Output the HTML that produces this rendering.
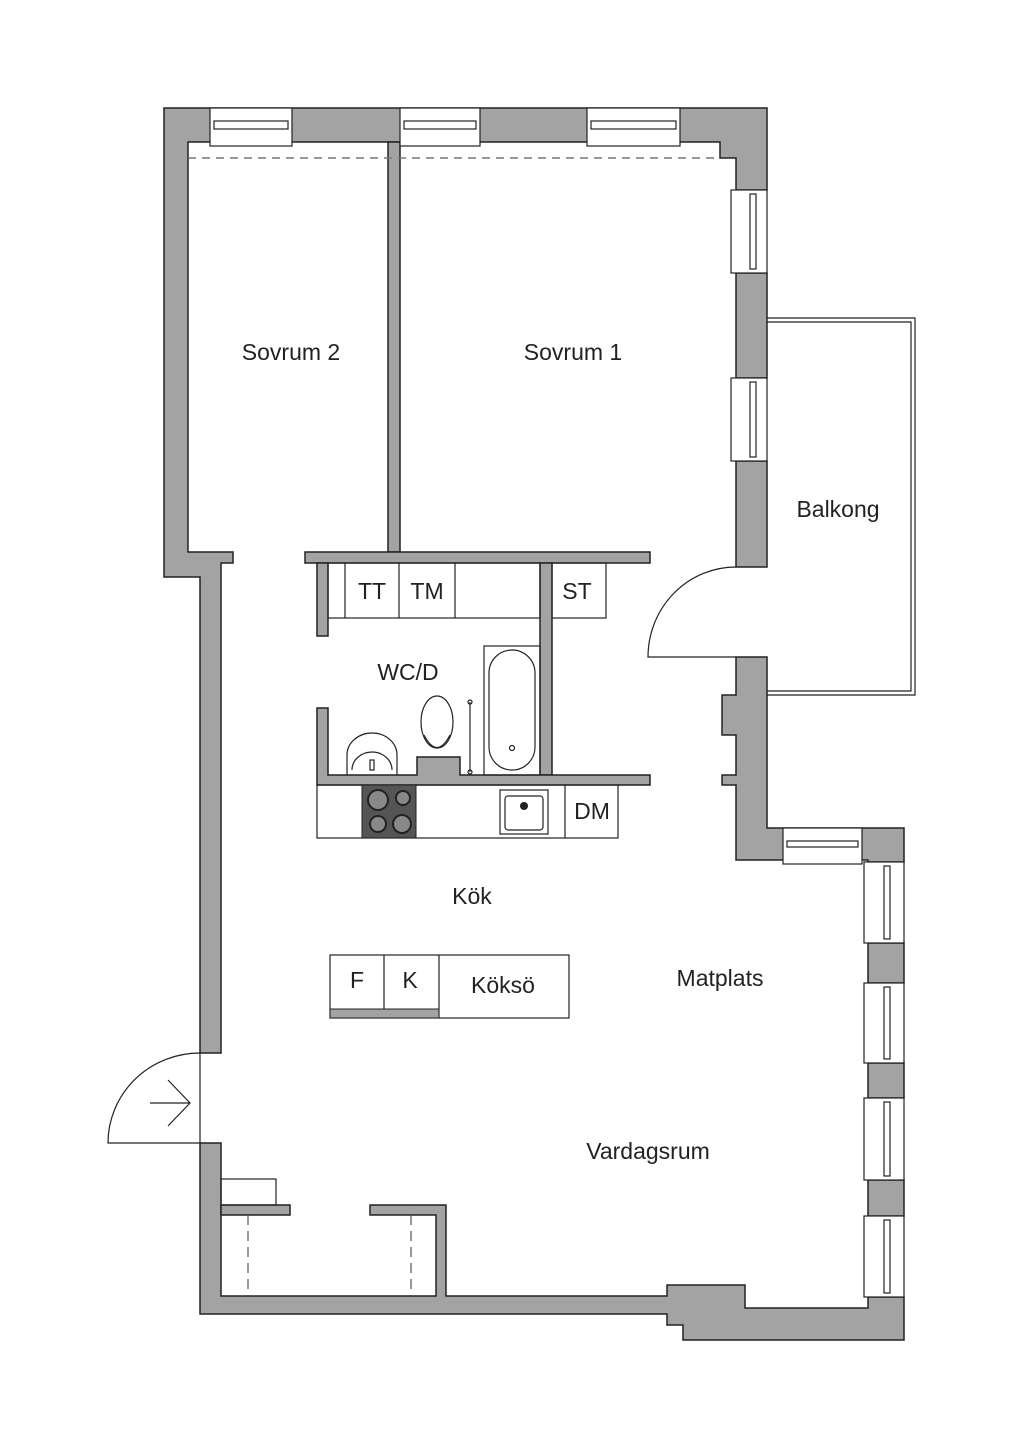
<!DOCTYPE html>
<html><head><meta charset="utf-8"><style>
html,body{margin:0;padding:0;background:#fff}
svg{display:block}
text{font-family:"Liberation Sans",sans-serif;font-size:23px;fill:#222;text-anchor:middle}
</style></head><body>
<svg width="1024" height="1448" viewBox="0 0 1024 1448" xmlns="http://www.w3.org/2000/svg">
<g fill="#a3a3a3" stroke="#222" stroke-width="1.5">
<path d="M164 108 L767 108 L767 190 L736 190 L736 158 L720 158 L720 142 L188 142 L188 552 L233 552 L233 563 L221 563 L221 1053 L200 1053 L200 577 L164 577 Z"/>
<rect x="736" y="273" width="31" height="105"/>
<rect x="736" y="461" width="31" height="106"/>
<path d="M736 657 L767 657 L767 828 L904 828 L904 862 L868 862 L868 860 L783 860 L783 860 L736 860 L736 785 L722 785 L722 775 L736 775 L736 735 L722 735 L722 695 L736 695 Z"/>
<rect x="868" y="943" width="36" height="40"/>
<rect x="868" y="1063" width="36" height="35"/>
<rect x="868" y="1180" width="36" height="36"/>
<path d="M200 1143 L221 1143 L221 1296 L436 1296 L436 1215 L370 1215 L370 1205 L446 1205 L446 1296 L667 1296 L667 1285 L745 1285 L745 1308 L868 1308 L868 1297 L904 1297 L904 1340 L683 1340 L683 1325 L667 1325 L667 1314 L200 1314 Z"/>
<rect x="221" y="1205" width="69" height="10"/>
<rect x="388" y="142" width="12" height="410"/>
<rect x="305" y="552" width="345" height="11"/>
<rect x="317" y="563" width="11" height="73"/>
<rect x="540" y="563" width="12" height="212"/>
<path d="M317 708 L328 708 L328 775 L417 775 L417 757 L460 757 L460 775 L650 775 L650 785 L317 785 Z"/>
</g>
<g fill="#fff" stroke="#222" stroke-width="1.2">
<rect x="210" y="108" width="82" height="38"/><rect x="214" y="121" width="74" height="8"/>
<rect x="400" y="108" width="80" height="38"/><rect x="404" y="121" width="72" height="8"/>
<rect x="587" y="108" width="93" height="38"/><rect x="591" y="121" width="85" height="8"/>
<rect x="731" y="190" width="36" height="83"/><rect x="750" y="194" width="6" height="75"/>
<rect x="731" y="378" width="36" height="83"/><rect x="750" y="382" width="6" height="75"/>
<rect x="783" y="828" width="79" height="36"/><rect x="787" y="841" width="71" height="6"/>
<rect x="864" y="862" width="40" height="81"/><rect x="884" y="866" width="6" height="73"/>
<rect x="864" y="983" width="40" height="80"/><rect x="884" y="987" width="6" height="72"/>
<rect x="864" y="1098" width="40" height="82"/><rect x="884" y="1102" width="6" height="74"/>
<rect x="864" y="1216" width="40" height="81"/><rect x="884" y="1220" width="6" height="73"/>
</g>
<line x1="188" y1="158" x2="720" y2="158" stroke="#777" stroke-width="1.5" stroke-dasharray="8,6"/>
<g fill="none" stroke="#222" stroke-width="1.2">
<path d="M767 318 L915 318 L915 695 L767 695"/><path d="M767 322 L911 322 L911 691 L767 691"/>
<path d="M736 567 A88 90 0 0 0 648 657 L736 657"/>
<path d="M200 1053 A92 90 0 0 0 108 1143 L200 1143 Z" fill="#fff"/>
<path d="M150 1103 L190 1103 M168 1080 L190 1103 L168 1126"/>
<rect x="328" y="563" width="212" height="55"/>
<line x1="345" y1="563" x2="345" y2="618"/><line x1="399" y1="563" x2="399" y2="618"/><line x1="455" y1="563" x2="455" y2="618"/>
<rect x="552" y="563" width="54" height="55"/>
<rect x="484" y="646" width="56" height="129"/>
<rect x="489" y="650" width="46" height="120" rx="23"/>
<circle cx="512" cy="748" r="2.5"/>
<ellipse cx="437" cy="722" rx="16" ry="26"/>
<path d="M424 735 Q437 760 450 735"/>
<line x1="470" y1="702" x2="470" y2="772"/><circle cx="470" cy="702" r="2"/><circle cx="470" cy="772" r="2"/>
<path d="M347 775 L347 755 A25 22 0 0 1 397 755 L397 775"/>
<path d="M352 770 A20 18 0 1 1 392 770"/>
<rect x="370" y="760" width="4" height="10"/>
<rect x="317" y="785" width="301" height="53"/>
<line x1="565" y1="785" x2="565" y2="838"/>
<rect x="500" y="790" width="48" height="44"/><rect x="505" y="796" width="38" height="34" rx="3"/>
<rect x="330" y="955" width="239" height="63"/>
<line x1="384" y1="955" x2="384" y2="1013"/><line x1="439" y1="955" x2="439" y2="1018"/>
<rect x="221" y="1179" width="55" height="26"/>
</g>
<rect x="330" y="1009" width="109" height="9" fill="#a3a3a3" stroke="#222"/>
<circle cx="524" cy="806" r="4" fill="#222"/>
<rect x="362" y="785" width="54" height="53" fill="#555" stroke="#222"/>
<g fill="#888" stroke="#222" stroke-width="2">
<circle cx="378" cy="800" r="10"/><circle cx="403" cy="798" r="7"/><circle cx="378" cy="824" r="8"/><circle cx="402" cy="824" r="9"/>
</g>
<g stroke="#555" stroke-width="1.2" stroke-dasharray="10,6">
<line x1="248" y1="1215" x2="248" y2="1296"/><line x1="411" y1="1215" x2="411" y2="1296"/>
</g>
<text x="291" y="360">Sovrum 2</text>
<text x="573" y="360">Sovrum 1</text>
<text x="838" y="517">Balkong</text>
<text x="372" y="599">TT</text>
<text x="427" y="599">TM</text>
<text x="577" y="599">ST</text>
<text x="408" y="680">WC/D</text>
<text x="592" y="819">DM</text>
<text x="472" y="904">Kök</text>
<text x="357" y="988">F</text>
<text x="410" y="988">K</text>
<text x="503" y="993">Köksö</text>
<text x="720" y="986">Matplats</text>
<text x="648" y="1159">Vardagsrum</text>
</svg>
</body></html>
